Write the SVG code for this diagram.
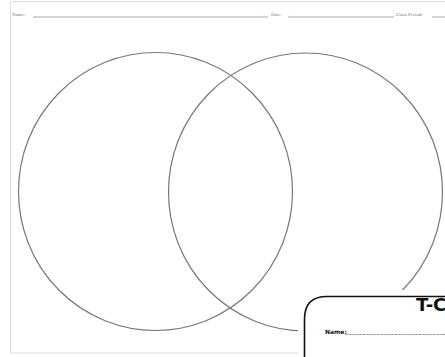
<svg xmlns="http://www.w3.org/2000/svg" width="445" height="357" viewBox="0 0 445 357">
<style>
.hdr{font-family:"Liberation Serif",serif;font-size:5px;fill:#777}
.ul{stroke:#888;stroke-width:0.7}
.circ{fill:none;stroke:#777;stroke-width:1.2}
</style>
<rect width="445" height="357" fill="#fff"/>
<g id="page">
<path d="M445 1.5 H10.5 V353 H445" fill="none" stroke="#ddd" stroke-width="1"/>
</g>
<g id="header">
<text class="hdr" x="12" y="16">Name:</text>
<line class="ul" x1="33" y1="17" x2="268" y2="17"/>
<text class="hdr" x="271" y="16">Date:</text>
<line class="ul" x1="288" y1="17" x2="394" y2="17"/>
<text class="hdr" x="396" y="16">Class Period:</text>
<line class="ul" x1="432" y1="17" x2="445" y2="17"/>
</g>
<g id="circle-left">
<ellipse class="circ" cx="155.5" cy="191.5" rx="137" ry="139"/>
</g>
<g id="circle-right">
<ellipse class="circ" cx="305.5" cy="192" rx="137" ry="139"/>
</g>
<g id="tchart-card">
<rect x="298" y="290" width="160" height="80" fill="#fff"/>
<path d="M304.5 357 V319 Q304.5 296.5 327 296.5 H446" fill="#fff" stroke="#111" stroke-width="1.6"/>
<text x="416" y="311" font-family="'DejaVu Sans',sans-serif" font-weight="bold" font-size="18" fill="#111">T-C</text>
<text x="325" y="334" font-family="'DejaVu Sans',sans-serif" font-weight="bold" font-size="6" fill="#111">Name:</text>
<line x1="346" y1="334.5" x2="445" y2="334.5" stroke="#333" stroke-width="0.7" stroke-dasharray="0.8 0.6"/>
</g>
</svg>
